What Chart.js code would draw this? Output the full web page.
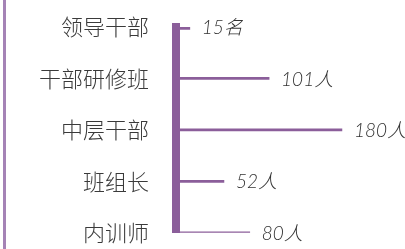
<!DOCTYPE html>
<html>
<head>
<meta charset="utf-8">
<script src="https://cdn.jsdelivr.net/npm/chart.js@4/dist/chart.umd.min.js"></script>
<style>
    html, body { margin: 0; padding: 0; background: #fff; }
    .wrap {
        position: relative;
        width: 405px;
        height: 249px;
        overflow: hidden;
    }
    .wrap::before {
        content: "";
        position: absolute;
        left: 3px;
        top: 0;
        bottom: 0;
        width: 3px;
        background: #a583b6;
    }
    canvas { display: block; }
</style>
</head>
<body>
<div class="wrap">
    <canvas id="chart" width="405" height="249"></canvas>
</div>
<script>
    const categories = ["领导干部", "干部研修班", "中层干部", "班组长", "内训师"];
    const counts = [15, 101, 180, 52, 80];
    const units = ["名", "人", "人", "人", "人"];

    const purple = "#8b5e9a";

    // 顶部一条粗线，其余细线
    const firstOnly = counts.map((v, i) => (i === 0 ? v : null));
    const restOnly = counts.map((v, i) => (i === 0 ? null : v));

    // 分类文字略加字距
    const spacing = {
        id: "spacing",
        beforeInit(chart) { chart.ctx.letterSpacing = "1px"; }
    };

    // 线尾标注数值
    const valueLabels = {
        id: "valueLabels",
        afterDatasetsDraw(chart) {
            const ctx = chart.ctx;
            ctx.save();
            ctx.letterSpacing = "0px";
            ctx.font = "italic 300 19px Lato, 'Noto Sans CJK SC', sans-serif";
            ctx.fillStyle = "#333";
            ctx.textAlign = "left";
            ctx.textBaseline = "middle";
            chart.data.datasets.forEach((ds, di) => {
                const meta = chart.getDatasetMeta(di);
                meta.data.forEach((bar, i) => {
                    if (ds.data[i] == null) return;
                    ctx.fillText(counts[i] + units[i], bar.x + 12, bar.y + 1);
                });
            });
            ctx.restore();
        }
    };

    new Chart(document.getElementById("chart"), {
        type: "bar",
        data: {
            labels: categories,
            datasets: [
                {
                    data: firstOnly,
                    backgroundColor: purple,
                    barThickness: 5,
                    grouped: false
                },
                {
                    data: restOnly,
                    backgroundColor: purple,
                    barThickness: 2,
                    grouped: false
                }
            ]
        },
        options: {
            indexAxis: "y",
            responsive: false,
            animation: false,
            layout: { padding: { top: 27, bottom: 15, right: 5, left: 0 } },
            plugins: {
                legend: { display: false },
                tooltip: { enabled: false }
            },
            scales: {
                x: {
                    display: false,
                    min: 0,
                    max: 243
                },
                y: {
                    offset: false,
                    afterFit: scale => { scale.width = 176; },
                    grid: { display: false, drawTicks: true, tickLength: 24, tickColor: "transparent" },
                    border: { display: true, color: purple, width: 8 },
                    ticks: {
                        padding: 3,
                        color: "#3a3a3a",
                        font: { family: "'Noto Sans CJK SC', sans-serif", size: 22, weight: 300 }
                    }
                }
            }
        },
        plugins: [spacing, valueLabels]
    });
</script>
</body>
</html>
